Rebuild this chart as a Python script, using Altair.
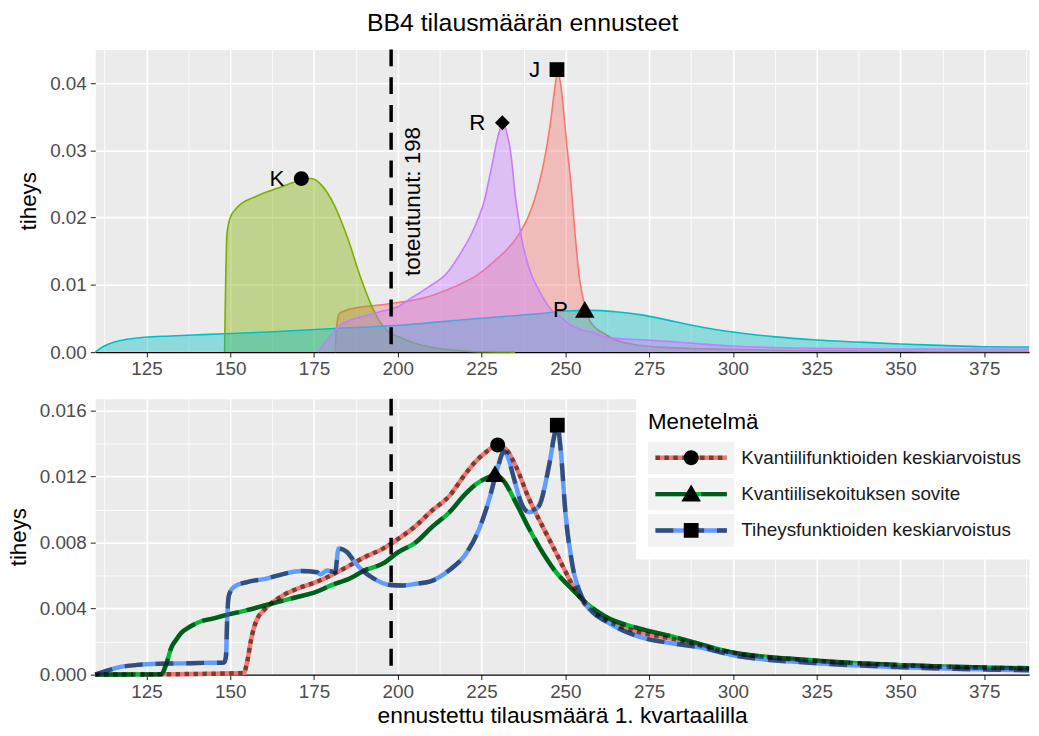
import altair as alt
import pandas as pd

FONT = "Liberation Sans"
ACTUAL = 198
X_DOMAIN = [109.7, 388.4]
Y_TOP_DOMAIN = [0, 0.045]
Y_BOT_DOMAIN = [0, 0.0167]

# ---------------- top panel: individual forecast densities ----------------
J_X = [181.3, 181.6, 182.5, 184.5, 188.9, 194.7, 200.6, 204.5, 209.5, 214.4, 219.5, 224.1, 229.0, 233.9, 236.5,
       238.8, 240.5, 241.8, 243.3, 244.7, 245.8, 246.7, 247.7, 248.6, 249.6, 250.6, 251.6, 253.0, 254.2, 255.5,
       257.2, 259.0, 261.4, 265.0, 271.0, 280.0, 300.0, 330.0, 360.0, 388.4]
J_Y = [0.0, 0.0030, 0.0057, 0.0062, 0.0067, 0.0070, 0.0074, 0.0077, 0.0083, 0.0092, 0.0103, 0.0116, 0.0136, 0.0160,
       0.0178, 0.0200, 0.0222, 0.0244, 0.0275, 0.0313, 0.0350, 0.0387, 0.0416, 0.0398, 0.0352, 0.0300, 0.0254,
       0.0170, 0.0110, 0.0075, 0.0048, 0.0036, 0.0028, 0.0018, 0.0011, 0.0007, 0.0004, 0.0002, 0.0001, 0.0001]

K_X = [148.3, 148.6, 149.0, 150.0, 151.5, 153.6, 157.0, 161.4, 166.0, 171.2, 174.2, 177.1, 181.0, 185.0, 188.9,
       192.8, 196.7, 200.6, 205.0, 210.0, 214.4, 222.0, 235.0]
K_Y = [0.0, 0.0100, 0.0175, 0.0200, 0.0212, 0.0222, 0.0230, 0.0239, 0.0247, 0.0256, 0.0258, 0.0249, 0.0219, 0.0170,
       0.0111, 0.0062, 0.0032, 0.0022, 0.0013, 0.0007, 0.0004, 0.0001, 0.0]

P_X = [109.7, 112.0, 115.4, 119.0, 124.2, 132.0, 141.8, 161.4, 181.0, 200.6, 224.1, 241.8, 250.0, 258.5, 265.0,
       273.2, 282.9, 290.8, 300.0, 312.0, 325.0, 337.0, 350.0, 362.0, 374.6, 388.4]
P_Y = [0.0, 0.0008, 0.0015, 0.0019, 0.0022, 0.0024, 0.0026, 0.0030, 0.0035, 0.0040, 0.0050, 0.0057, 0.0061, 0.0062,
       0.0060, 0.0055, 0.0045, 0.0037, 0.0030, 0.0023, 0.0018, 0.0015, 0.0012, 0.0010, 0.0008, 0.00075]

R_X = [176.1, 178.0, 180.0, 182.0, 185.0, 188.9, 194.7, 200.6, 204.5, 209.5, 214.4, 219.2, 222.0, 224.1, 225.8,
       227.1, 228.4, 229.5, 230.4, 231.2, 232.0, 232.8, 233.5, 234.2, 234.9, 235.9, 236.9, 238.3, 239.8, 241.8,
       243.8, 246.0, 248.6, 251.6, 255.0, 258.5, 261.4, 266.0, 274.1, 282.9, 299.6, 325.0, 350.0, 388.4]
R_Y = [0.0, 0.0012, 0.0024, 0.0037, 0.0046, 0.0052, 0.0060, 0.0069, 0.0082, 0.0098, 0.0116, 0.0151, 0.0176, 0.0200,
       0.0225, 0.0254, 0.0285, 0.0313, 0.0330, 0.0340, 0.0335, 0.0320, 0.0303, 0.0275, 0.0239, 0.0203, 0.0170,
       0.0140, 0.0116, 0.0095, 0.0077, 0.0062, 0.0052, 0.0040, 0.0033, 0.0029, 0.0023, 0.0020, 0.0018, 0.0015,
       0.0009, 0.00055, 0.00045, 0.0004]

TOP_NAMES = ["J", "K", "P", "R"]
TOP_COLORS = ["#F8766D", "#7CAE00", "#00BFC4", "#C77CFF"]

PEAK_NAMES = ["K", "R", "J", "P"]
PEAK_X = [171.2, 231.2, 247.5, 255.8]
PEAK_Y = [0.0258, 0.0341, 0.0420, 0.0062]

# ---------------- bottom panel: combined forecasts ----------------
METHODS = ["Kvantiilifunktioiden keskiarvoistus", "Kvantiilisekoituksen sovite",
           "Tiheysfunktioiden keskiarvoistus"]

Q_X = [109.7, 130.0, 154.0, 155.1, 156.1, 157.0, 158.1, 160.0, 162.1, 166.0, 170.0, 175.9, 180.0, 185.8, 190.0,
       195.6, 200.0, 205.5, 210.0, 215.4, 220.0, 223.3, 226.5, 229.8, 232.5, 235.2, 239.2, 244.1, 248.1, 252.1,
       256.0, 262.0, 271.9, 281.8, 299.4, 324.2, 348.9, 388.4]
Q_Y = [0.0, 0.00002, 0.0001, 0.00084, 0.0020, 0.0028, 0.0034, 0.0039, 0.0043, 0.00483, 0.0052, 0.00563, 0.0060,
       0.00663, 0.0071, 0.00763, 0.0082, 0.00903, 0.0099, 0.01082, 0.0121, 0.01292, 0.0135, 0.01392, 0.0136,
       0.01262, 0.01062, 0.00862, 0.00703, 0.00543, 0.00423, 0.00333, 0.00258, 0.00218, 0.00134, 0.00084,
       0.00058, 0.00036]

G_X = [109.7, 129.4, 130.9, 132.4, 133.8, 135.4, 138.0, 141.3, 145.0, 149.2, 155.0, 161.1, 168.0, 175.9, 180.0,
       185.8, 190.0, 195.6, 200.0, 205.5, 210.0, 215.4, 220.0, 223.3, 226.5, 229.2, 231.3, 235.2, 239.2, 243.1,
       247.1, 252.1, 257.0, 262.0, 271.9, 281.8, 299.4, 324.2, 348.9, 388.4]
G_Y = [0.0, 0.00002, 0.00064, 0.00164, 0.0021, 0.00253, 0.0029, 0.00323, 0.0034, 0.00363, 0.0039, 0.00423,
       0.0046, 0.00503, 0.0054, 0.00583, 0.0063, 0.00673, 0.0074, 0.00803, 0.0089, 0.00983, 0.0109, 0.01152,
       0.0119, 0.0121, 0.0118, 0.01043, 0.00883, 0.00743, 0.00623, 0.00515, 0.0042, 0.0035, 0.0028, 0.00232,
       0.00136, 0.00086, 0.00059, 0.00038]

T_X = [109.7, 113.0, 116.6, 121.0, 126.5, 135.0, 142.0, 148.2, 148.7, 149.1, 149.5, 150.2, 151.2, 155.0, 161.1,
       166.0, 171.0, 175.9, 176.9, 178.9, 181.3, 182.3, 184.8, 186.8, 188.8, 192.7, 197.7, 201.6, 205.5, 209.5,
       215.4, 220.4, 224.3, 227.3, 229.8, 231.7, 233.0, 234.2, 237.2, 239.2, 242.1, 245.1, 247.1, 247.6, 248.6,
       250.1, 252.1, 255.1, 258.0, 262.0, 271.9, 281.8, 291.5, 299.4, 324.2, 348.9, 388.4]
T_Y = [0.0, 0.00022, 0.00044, 0.00056, 0.00064, 0.00068, 0.00071, 0.00074, 0.0011, 0.0035, 0.0047, 0.0051,
       0.00533, 0.0056, 0.00583, 0.0061, 0.00627, 0.0062, 0.00607, 0.0063, 0.0062, 0.00763, 0.00743, 0.0069,
       0.00643, 0.00583, 0.00543, 0.0054, 0.0055, 0.00563, 0.00633, 0.00733, 0.00883, 0.01063, 0.01252, 0.01352,
       0.0131, 0.01222, 0.01022, 0.00983, 0.0102, 0.01262, 0.01482, 0.0151, 0.01362, 0.00962, 0.00663, 0.00463,
       0.0038, 0.00324, 0.0023, 0.0019, 0.0016, 0.0012, 0.0007, 0.00046, 0.00026]

BOT_PEAK_X = [229.8, 229.0, 247.6]
BOT_PEAK_Y = [0.0139, 0.0121, 0.0151]

BASE_COLORS = ["#F8766D", "#00BA38", "#619CFF"]
KEY_FILLS = ["#F2F2F2", "#F2F2F2", "#F2F2F2"]
DASHES = [[4.5, 4.5], [38, 8], [18, 13]]

# axis tick / grid values
X_GRID = [112.5, 125, 137.5, 150, 162.5, 175, 187.5, 200, 212.5, 225, 237.5, 250, 262.5, 275, 287.5, 300,
          312.5, 325, 337.5, 350, 362.5, 375, 387.5]
Y_TOP_GRID = [0.0, 0.005, 0.01, 0.015, 0.02, 0.025, 0.03, 0.035, 0.04]
Y_BOT_GRID = [0.0, 0.002, 0.004, 0.006, 0.008, 0.010, 0.012, 0.014, 0.016]

# marker shapes (unit paths, scaled by sqrt(size)/2)
CIRCLE = ("M0.625,0C0.625,0.3452,0.3452,0.625,0,0.625C-0.3452,0.625,-0.625,0.3452,-0.625,0"
          "C-0.625,-0.3452,-0.3452,-0.625,0,-0.625C0.3452,-0.625,0.625,-0.3452,0.625,0Z")
TRIANGLE = "M0,-0.8L0.82,0.62L-0.82,0.62Z"
SQUARE = "M-0.62,-0.62H0.62V0.62H-0.62Z"
DIAMOND = "M0,-0.62L0.62,0L0,0.62L-0.62,0Z"
KEY_BOX = "M-3.625,-1.375H3.625V1.375H-3.625Z"
KEY_LINE = "M-3,0H3"

MARKER_SIZE = 576
PANEL_W = 941
LABEL_SIZE = 19

# ---------------- data frames ----------------
top_df = pd.DataFrame({
    "x": J_X + K_X + P_X + R_X,
    "y": J_Y + K_Y + P_Y + R_Y,
    "name": ["J"] * len(J_X) + ["K"] * len(K_X) + ["P"] * len(P_X) + ["R"] * len(R_X),
})
top_peaks = pd.DataFrame({"x": PEAK_X, "y": PEAK_Y, "name": PEAK_NAMES})

bot_df = pd.DataFrame({
    "x": Q_X + G_X + T_X,
    "y": Q_Y + G_Y + T_Y,
    "Menetelmä": [METHODS[0]] * len(Q_X) + [METHODS[1]] * len(G_X) + [METHODS[2]] * len(T_X),
})
bot_df["mover"] = bot_df["Menetelmä"]
bot_peaks = pd.DataFrame({"x": BOT_PEAK_X, "y": BOT_PEAK_Y, "mshape": METHODS, "mbg": METHODS})
actual_df = pd.DataFrame({"x": [ACTUAL]})

# ---------------- axes ----------------
MAJ_X = "datum.value % 25 === 0"
MIN_X = "datum.value % 25 !== 0"


def x_axis(title):
    return alt.Axis(
        values=X_GRID, format="d", title=title,
        labelExpr=f"{MAJ_X} ? datum.label : ''",
        grid=True, gridColor="white",
        gridWidth={"condition": {"test": MIN_X, "value": 0.8}, "value": 1.6},
        tickOpacity={"condition": {"test": MIN_X, "value": 0}, "value": 1},
        ticks=True, tickColor="#333333", tickWidth=1.1, tickSize=5,
        domain=True, domainColor="black", domainWidth=1.3,
        labelColor="#4D4D4D", labelFont=FONT, labelFontSize=LABEL_SIZE, labelPadding=3,
        labelFlush=False, labelOverlap=False,
        titleFont=FONT, titleFontSize=23, titleFontWeight="normal", titleColor="black", titlePadding=3,
    )


def y_axis(values, mult, fmt):
    minor = f"abs(datum.value*{mult} - round(datum.value*{mult})) > 0.001"
    return alt.Axis(
        values=values, format=fmt, title="tiheys",
        labelExpr=f"({minor}) ? '' : datum.label",
        grid=True, gridColor="white",
        gridWidth={"condition": {"test": minor, "value": 0.8}, "value": 1.6},
        tickOpacity={"condition": {"test": minor, "value": 0}, "value": 1},
        ticks=True, tickColor="#333333", tickWidth=1.1, tickSize=5,
        domain=False,
        labelColor="#4D4D4D", labelFont=FONT, labelFontSize=LABEL_SIZE, labelPadding=4,
        labelFlush=False, labelOverlap=False,
        titleFont=FONT, titleFontSize=22.5, titleFontWeight="normal", titleColor="black", titlePadding=9,
    )


x_scale = alt.Scale(domain=X_DOMAIN, nice=False, zero=False)

# ---------------- top panel ----------------
top_x = alt.X("x:Q", scale=x_scale, axis=x_axis(None))
top_y = alt.Y("y:Q", stack=None, scale=alt.Scale(domain=Y_TOP_DOMAIN, nice=False, zero=False),
              axis=y_axis(Y_TOP_GRID, 100, ".2f"))
top_color = alt.Color("name:N", scale=alt.Scale(domain=TOP_NAMES, range=TOP_COLORS), legend=None)

top_layers = []
for nm in TOP_NAMES:
    top_layers.append(
        alt.Chart(top_df).transform_filter(alt.datum.name == nm)
        .mark_area(fillOpacity=0.4, interpolate="monotone", line={"strokeWidth": 1.6})
        .encode(x=top_x, y=top_y, color=top_color)
    )

top_rule = alt.Chart(actual_df).mark_rule(color="black", strokeWidth=3.5, strokeDash=[17, 11]).encode(
    x=alt.X("x:Q", scale=x_scale))

top_text = alt.Chart(actual_df).mark_text(
    angle=270, align="center", baseline="top", dy=11, font=FONT, fontSize=22.5, color="black"
).encode(x=alt.X("x:Q", scale=x_scale), y=alt.datum(0.0224), text=alt.value(f"toteutunut: {ACTUAL}"))

top_markers = alt.Chart(top_peaks).mark_point(filled=True, size=MARKER_SIZE, opacity=1, color="black").encode(
    x=alt.X("x:Q", scale=x_scale), y=alt.Y("y:Q"),
    shape=alt.Shape("name:N", scale=alt.Scale(domain=TOP_NAMES, range=[SQUARE, CIRCLE, TRIANGLE, DIAMOND]),
                    legend=None))

top_labels = alt.Chart(top_peaks).mark_text(
    align="right", baseline="middle", dx=-17, font=FONT, fontSize=22.5, color="black"
).encode(x=alt.X("x:Q", scale=x_scale), y=alt.Y("y:Q"), text="name:N")

top = alt.layer(*top_layers, top_rule, top_text, top_markers, top_labels).properties(width=PANEL_W, height=305)

# ---------------- bottom panel ----------------
LEG = dict(orient="none", legendX=545, legendY=0, padding=12, clipHeight=33,
           symbolSize=MARKER_SIZE, symbolStrokeWidth=4.5, symbolOffset=29, labelOffset=36,
           rowPadding=3.6, titlePadding=8.5, title="Menetelmä",
           titleFont=FONT, titleFontSize=22.5, titleFontWeight="normal",
           labelFont=FONT, labelFontSize=LABEL_SIZE, labelLimit=600)

bot_x = alt.X("x:Q", scale=x_scale, axis=x_axis("ennustettu tilausmäärä 1. kvartaalilla"))
bot_y = alt.Y("y:Q", scale=alt.Scale(domain=Y_BOT_DOMAIN, nice=False, zero=False),
              axis=y_axis(Y_BOT_GRID, 250, ".3f"))

key_bg = alt.Chart(bot_peaks).mark_point(filled=True, size=10, opacity=1).encode(
    x=bot_x, y=bot_y,
    fill=alt.Fill("mbg:N", scale=alt.Scale(range=KEY_FILLS),
                  legend=alt.Legend(symbolType=KEY_BOX, symbolStrokeColor="transparent", fillColor="white",
                                    titleColor="black", labelColor="#1A1A1A", **LEG)))

base_lines = alt.Chart(bot_df).mark_line(strokeWidth=4.5, interpolate="monotone", strokeCap="butt").encode(
    x=bot_x, y=bot_y,
    color=alt.Color("Menetelmä:N", scale=alt.Scale(range=BASE_COLORS),
                    legend=alt.Legend(symbolType=KEY_LINE, titleColor="transparent",
                                      labelColor="transparent", **LEG)))

over_lines = alt.Chart(bot_df).mark_line(strokeWidth=4.5, interpolate="monotone", strokeCap="butt",
                                         color="black", opacity=0.5).encode(
    x=bot_x, y=bot_y,
    strokeDash=alt.StrokeDash("mover:N", scale=alt.Scale(range=DASHES),
                              legend=alt.Legend(symbolType=KEY_LINE, symbolStrokeColor="black",
                                                symbolOpacity=0.5, titleColor="transparent",
                                                labelColor="transparent", **LEG)))

bot_rule = alt.Chart(actual_df).mark_rule(color="black", strokeWidth=3.5, strokeDash=[17, 11]).encode(
    x=alt.X("x:Q", scale=x_scale))

bot_markers = alt.Chart(bot_peaks).mark_point(filled=True, size=MARKER_SIZE, opacity=1, color="black").encode(
    x=bot_x, y=bot_y,
    shape=alt.Shape("mshape:N", scale=alt.Scale(range=[CIRCLE, TRIANGLE, SQUARE]),
                    legend=alt.Legend(symbolFillColor="black", symbolStrokeColor="transparent",
                                      titleColor="transparent", labelColor="transparent", **LEG)))

bottom = alt.layer(key_bg, base_lines, over_lines, bot_rule, bot_markers).properties(width=PANEL_W, height=278)

INDEP = dict(x="independent", y="independent", color="independent", shape="independent",
             fill="independent", strokeDash="independent")

# ---------------- combine ----------------
chart = alt.VConcatChart(
    vconcat=[top, bottom], spacing=16,
    title=alt.TitleParams("BB4 tilausmäärän ennusteet", font=FONT, fontSize=25, fontWeight="normal",
                          color="black", anchor="middle", offset=11),
    padding={"left": 6, "top": 8, "right": 0, "bottom": 0},
    background="white",
).resolve_scale(**INDEP).configure_view(fill="#EBEBEB", stroke="transparent")

chart.save("out.html", embed_options={"renderer": "svg", "actions": False})
